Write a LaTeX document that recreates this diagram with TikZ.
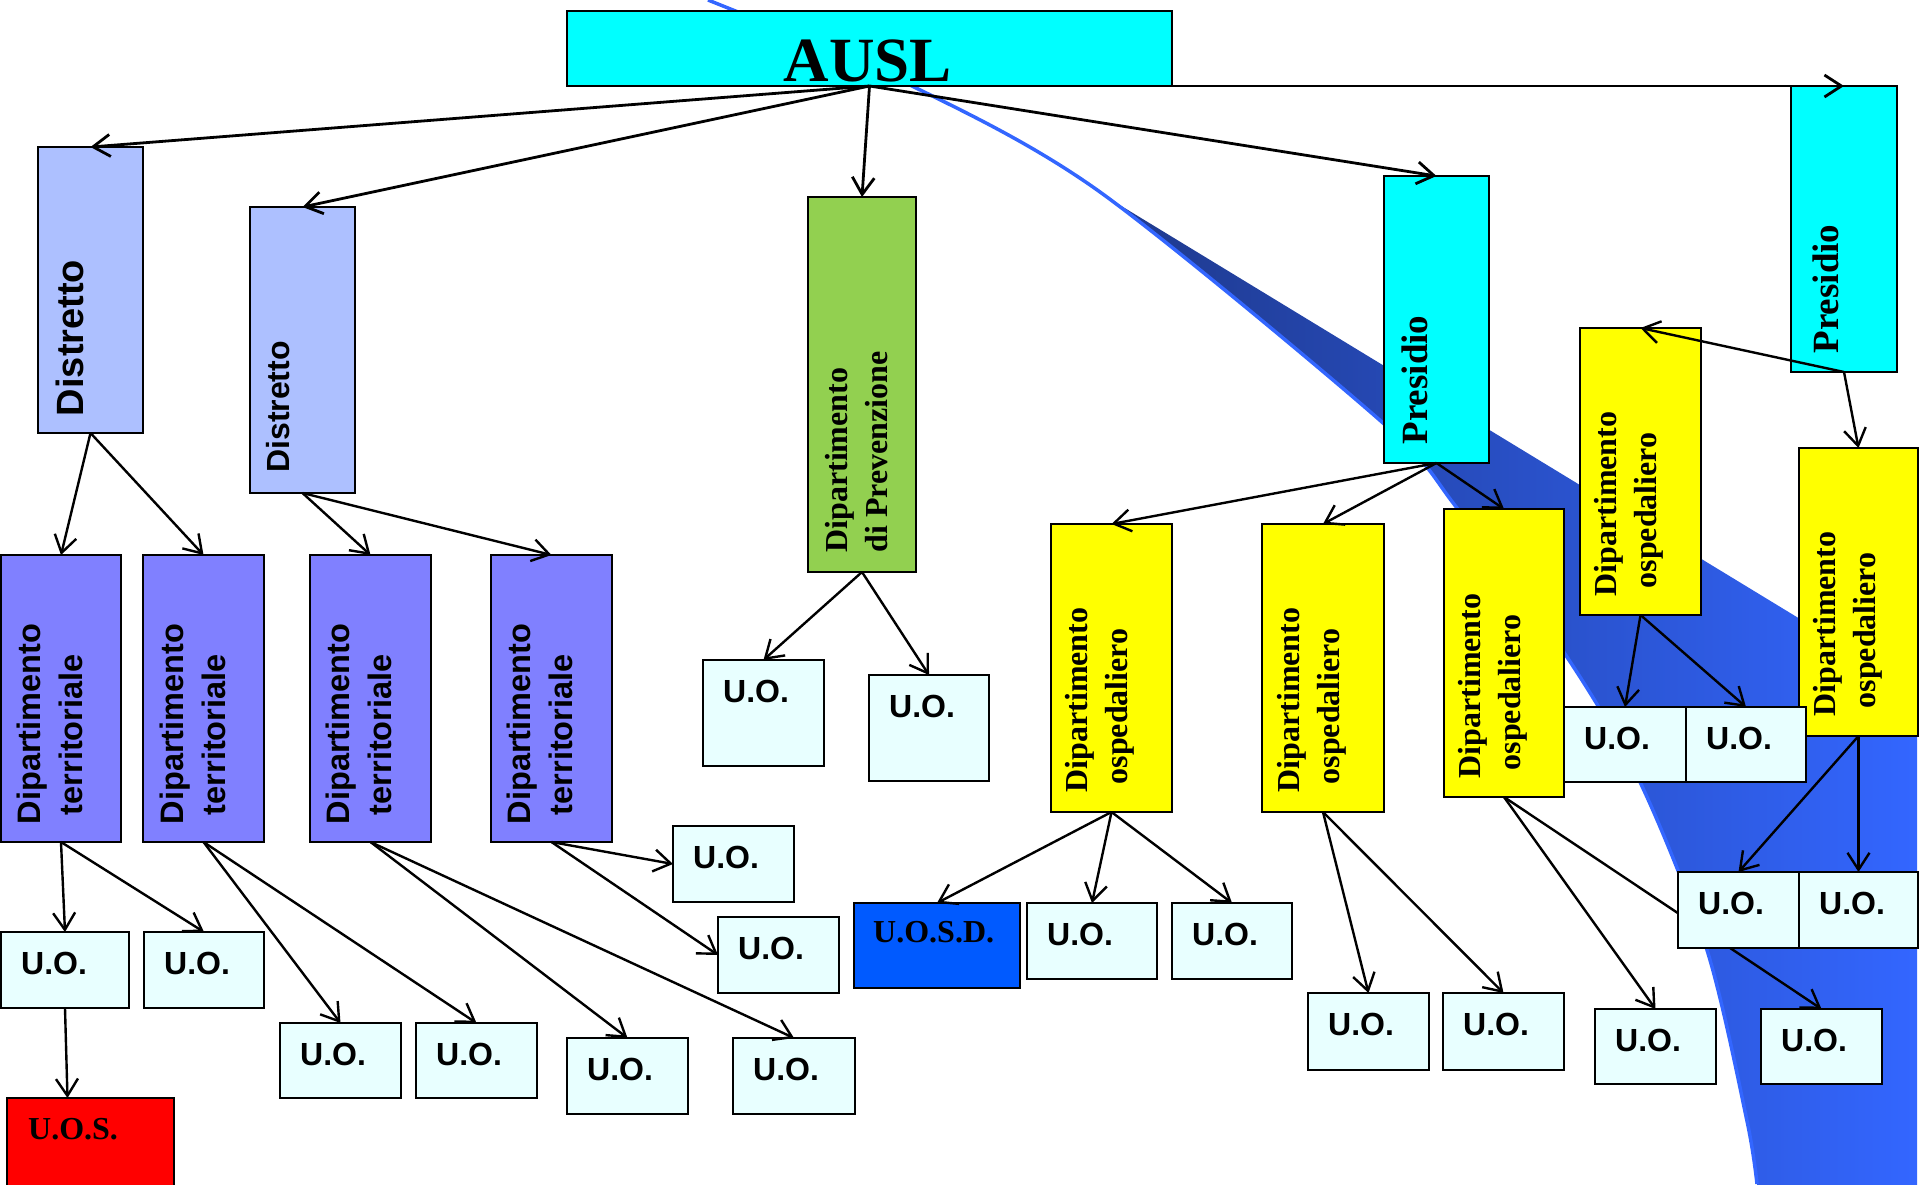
\documentclass[tikz,border=0pt]{standalone}
\usepackage{fontspec}
\setmainfont{Liberation Serif}
\setsansfont{Liberation Sans}
\usetikzlibrary{arrows.meta,calc}
\pgfdeclarelayer{swooshlayer}
\pgfdeclarelayer{linklayer}
\pgfsetlayers{swooshlayer,linklayer,main}
\definecolor{cyanbox}{RGB}{0,255,255}
\definecolor{distr}{RGB}{173,192,255}
\definecolor{terr}{RGB}{128,128,255}
\definecolor{prevgreen}{RGB}{146,208,80}
\definecolor{osp}{RGB}{255,255,0}
\definecolor{uofill}{RGB}{232,255,255}
\definecolor{uosred}{RGB}{255,0,0}
\definecolor{uosdblue}{RGB}{0,90,255}
\definecolor{swlight}{RGB}{51,102,255}
\definecolor{swdark}{RGB}{30,56,138}
\definecolor{swmid}{RGB}{44,84,210}
\tikzset{
  box/.style={draw=black, line width=2pt, inner sep=0pt, outer sep=0pt},
  link/.style={draw=black, line width=2.4pt, -{Straight Barb[length=17pt,width=22pt]}},
  toplink/.style={link, line width=2.8pt},
  rottext/.style={rotate=90, align=left, inner sep=0pt},
  sansbig/.style={font={\sffamily\bfseries\fontsize{32.5}{42}\selectfont}},
  serifbig/.style={font={\rmfamily\bfseries\fontsize{32}{40}\selectfont}},
  uotext/.style={font={\sffamily\bfseries\fontsize{32}{36}\selectfont}, inner sep=0pt, anchor=base west},
  uostext/.style={font={\rmfamily\bfseries\fontsize{32}{36}\selectfont}, inner sep=0pt, anchor=base west},
}
\newcommand{\bx}[6]{\node[box,#6,anchor=north west,minimum width={(#4)-(#2)},minimum height={(#5)-(#3)}] (#1) at (#2,#3) {};}
\newcommand{\uobox}[5]{\bx{#1}{#2}{#3}{#4}{#5}{fill=uofill}\node[uotext] (#1t) at (#2+20,#3+42) {U.O.};}
\begin{document}
\begin{tikzpicture}[x=1pt,y=-1pt]
\useasboundingbox (0,0) rectangle (1920,1184);

% ---------- background swoosh ----------
\begin{pgfonlayer}{swooshlayer}
\begin{scope}
  \clip (1100,193) -- (2017,751) -- (2017,1300) -- (1100,1300) -- cycle;
  \clip plot[smooth] coordinates {(708,0) (912,86) (1100,192) (1383,423) (1457,508) (1565,654) (1640,782) (1707,950) (1747,1121) (1757,1184)}
        -- (1757,1200) -- (1917,1200) -- (1917,-10) -- (708,-10) -- cycle;
  \shade[left color=swdark, middle color=swmid, right color=swlight] (1100,180) rectangle (1917,1200);
\end{scope}
\draw[swlight, line width=3.5pt] plot[smooth] coordinates {(708,0) (912,86) (1100,192) (1383,423) (1457,508) (1565,654) (1640,782) (1707,950) (1747,1121) (1757,1184)};
\end{pgfonlayer}

% ---------- boxes ----------
\bx{ausl}{567}{11}{1172}{86}{fill=cyanbox}
\bx{dis1}{38}{147}{143}{433}{fill=distr}
\bx{dis2}{250}{207}{355}{493}{fill=distr}
\bx{prev}{808}{197}{916}{572}{fill=prevgreen}
\bx{pres1}{1384}{176}{1489}{463}{fill=cyanbox}
\bx{pres2}{1791}{86}{1897}{372}{fill=cyanbox}
\bx{ter1}{1}{555}{121}{842}{fill=terr}
\bx{ter2}{143}{555}{264}{842}{fill=terr}
\bx{ter3}{310}{555}{431}{842}{fill=terr}
\bx{ter4}{491}{555}{612}{842}{fill=terr}
\bx{osp1}{1051}{524}{1172}{812}{fill=osp}
\bx{osp2}{1262}{524}{1384}{812}{fill=osp}
\bx{osp3}{1444}{509}{1564}{797}{fill=osp}
\bx{osp4}{1580}{328}{1701}{615}{fill=osp}
\bx{osp5}{1799}{448}{1918}{736}{fill=osp}

\uobox{u1}{1}{932}{129}{1008}
\uobox{u2}{144}{932}{264}{1008}
\uobox{u3}{280}{1023}{401}{1098}
\uobox{u4}{416}{1023}{537}{1098}
\uobox{u5}{567}{1038}{688}{1114}
\uobox{u6}{733}{1038}{855}{1114}
\uobox{u7}{673}{826}{794}{902}
\uobox{u8}{718}{917}{839}{993}
\uobox{u9}{703}{660}{824}{766}
\uobox{u10}{869}{675}{989}{781}
\uobox{u11}{1027}{903}{1157}{979}
\uobox{u12}{1172}{903}{1292}{979}
\uobox{u13}{1308}{993}{1429}{1070}
\uobox{u14}{1443}{993}{1564}{1070}
\uobox{u15}{1595}{1009}{1716}{1084}
\uobox{u16}{1761}{1009}{1882}{1084}
\uobox{u17}{1564}{707}{1686}{782}
\uobox{u18}{1686}{707}{1806}{782}
\uobox{u19}{1678}{872}{1799}{948}
\uobox{u20}{1799}{872}{1918}{948}

\bx{uos}{7}{1098}{174}{1188}{fill=uosred}
\node[uostext] (uost) at (28,1139) {U.O.S.};
\bx{uosd}{854}{903}{1020}{988}{fill=uosdblue}
\node[uostext] (uosdt) at (873,942) {U.O.S.D.};

% ---------- texts ----------
\node[font={\rmfamily\bfseries\fontsize{63}{70}\selectfont}, inner sep=0pt, anchor=base] (auslt) at (868,81) {AUSL};
\node[rottext, font={\sffamily\bfseries\fontsize{38}{44}\selectfont}] (dis1t) at (70,338) {Distretto};
\node[rottext, font={\sffamily\bfseries\fontsize{32}{40}\selectfont}] (dis2t) at (278,407) {Distretto};
\node[rottext, font={\rmfamily\bfseries\fontsize{37}{44}\selectfont}] (pres1t) at (1415,380) {Presidio};
\node[rottext, font={\rmfamily\bfseries\fontsize{37}{44}\selectfont}] (pres2t) at (1826,289) {Presidio};
\node[rottext, serifbig] (prevt) at (857,452) {Dipartimento\\di Prevenzione};
\foreach \n/\xx in {1/50, 2/193, 3/359, 4/540}
  \node[rottext, sansbig] (ter\n t) at (\xx,724) {Dipartimento\\\hspace*{0.28em}territoriale};
\foreach \n/\xx/\yy in {1/1100/700, 2/1312/700, 3/1493/686, 4/1629/504, 5/1848/624}
  \node[rottext, serifbig] (osp\n t) at (\xx,\yy) {Dipartimento\\\hspace*{0.25em}ospedaliero};

% ---------- connector hidden behind a box ----------
\begin{pgfonlayer}{linklayer}
\draw[link] (osp3.south) -- (u16.north);
\end{pgfonlayer}

% ---------- connectors (drawn over the boxes) ----------
\draw[toplink] (ausl.south) -- (dis1.north);
\draw[toplink] (ausl.south) -- (dis2.north);
\draw[toplink] (ausl.south) -- (prev.north);
\draw[toplink] (ausl.south) -- (pres1.north);
\draw[toplink] (ausl.south) -- (pres2.north);
\draw[link] (dis1.south) -- (ter1.north);
\draw[link] (dis1.south) -- (ter2.north);
\draw[link] (dis2.south) -- (ter3.north);
\draw[link] (dis2.south) -- (ter4.north);
\draw[link] (prev.south) -- (u9.north);
\draw[link] (prev.south) -- (u10.north);
\draw[link] (ter1.south) -- (u1.north);
\draw[link] (ter1.south) -- (u2.north);
\draw[link] (u1.south) -- ([xshift=-23pt]uos.north);
\draw[link] (ter2.south) -- (u3.north);
\draw[link] (ter2.south) -- (u4.north);
\draw[link] (ter3.south) -- (u5.north);
\draw[link] (ter3.south) -- (u6.north);
\draw[link] (ter4.south) -- (u7.west);
\draw[link] (ter4.south) -- (u8.west);
\draw[link] (pres1.south) -- (osp1.north);
\draw[link] (pres1.south) -- (osp2.north);
\draw[link] (pres1.south) -- (osp3.north);
\draw[link] (pres2.south) -- (osp4.north);
\draw[link] (pres2.south) -- (osp5.north);
\draw[link] (osp1.south) -- (uosd.north);
\draw[link] (osp1.south) -- (u11.north);
\draw[link] (osp1.south) -- (u12.north);
\draw[link] (osp2.south) -- (u13.north);
\draw[link] (osp2.south) -- (u14.north);
\draw[link] (osp3.south) -- (u15.north);
\draw[link] (osp4.south) -- (u17.north);
\draw[link] (osp4.south) -- (u18.north);
\draw[link] (osp5.south) -- (u19.north);
\draw[link] (osp5.south) -- (u20.north);
\end{tikzpicture}
\end{document}
